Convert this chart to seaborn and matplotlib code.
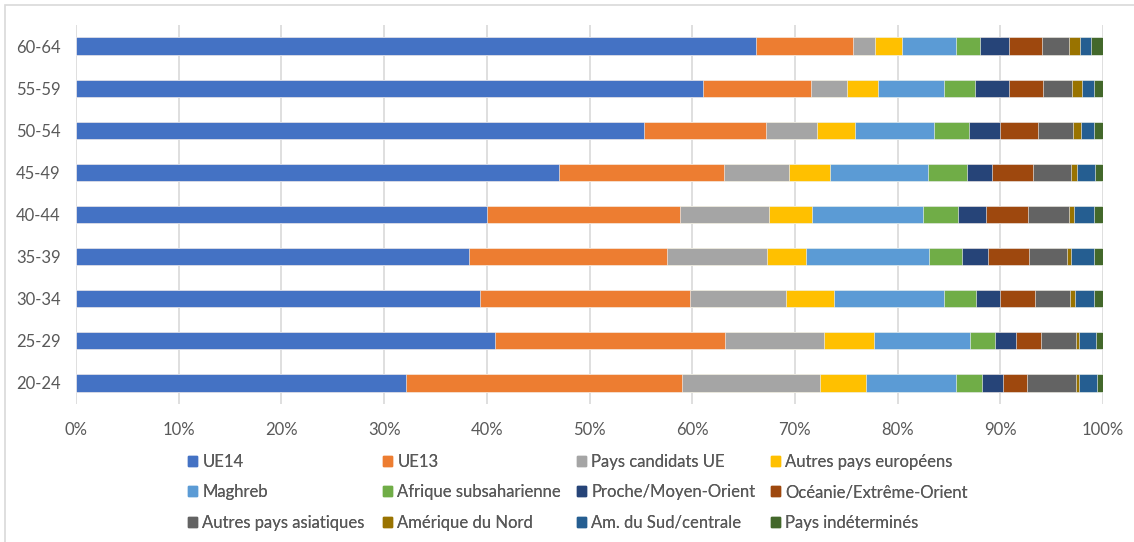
import seaborn as sns
import matplotlib.pyplot as plt
import matplotlib.patches as mpatches
import numpy as np

# age groups, top to bottom
ages = ["60-64", "55-59", "50-54", "45-49", "40-44", "35-39", "30-34", "25-29", "20-24"]

origins = ["UE14", "UE13", "Pays candidats UE", "Autres pays européens",
           "Maghreb", "Afrique subsaharienne", "Proche/Moyen-Orient", "Océanie/Extrême-Orient",
           "Autres pays asiatiques", "Amérique du Nord", "Am. du Sud/centrale", "Pays indéterminés"]

ue14 = [66.3, 61.1, 55.4, 47.2, 40.1, 38.2, 39.4, 40.8, 32.1]
ue13 = [9.4, 10.5, 11.9, 16.1, 18.8, 19.3, 20.4, 22.3, 26.8]
candidats = [2.2, 3.5, 4.9, 6.3, 8.6, 9.7, 9.4, 9.7, 13.5]
autres_europe = [2.6, 3.1, 3.7, 4.0, 4.2, 3.8, 4.7, 4.8, 4.4]
maghreb = [5.3, 6.4, 7.7, 9.6, 10.9, 12.0, 10.7, 9.4, 8.8]
afrique = [2.3, 3.0, 3.4, 3.8, 3.4, 3.2, 3.1, 2.4, 2.5]
proche_orient = [2.8, 3.3, 3.1, 2.5, 2.7, 2.5, 2.4, 2.0, 2.1]
oceanie = [3.3, 3.4, 3.7, 4.0, 4.1, 4.0, 3.4, 2.5, 2.3]
autres_asie = [2.6, 2.8, 3.4, 3.7, 4.0, 3.7, 3.4, 3.4, 4.8]
amerique_nord = [1.1, 1.0, 0.8, 0.6, 0.5, 0.4, 0.5, 0.3, 0.3]
amerique_sud = [1.0, 1.1, 1.2, 1.7, 1.9, 2.2, 1.8, 1.6, 1.7]
indetermines = [1.2, 0.9, 0.9, 0.8, 0.9, 0.9, 0.9, 0.7, 0.6]

series = [ue14, ue13, candidats, autres_europe, maghreb, afrique, proche_orient,
          oceanie, autres_asie, amerique_nord, amerique_sud, indetermines]

colors = ["#4472C4", "#ED7D31", "#A5A5A5", "#FFC000", "#5B9BD5", "#70AD47",
          "#264478", "#9E480E", "#636363", "#997300", "#255E91", "#43682B"]

sns.set_style("white")
plt.rcParams["font.family"] = ["Lato", "DejaVu Sans"]

vals = np.array(series)
pct = vals / vals.sum(axis=0) * 100
cum = pct.cumsum(axis=0)

fig = plt.figure(figsize=(11.34, 5.42), dpi=100)
ax = fig.add_axes([76 / 1134, 1 - 404 / 542, (1103 - 76) / 1134, (404 - 25) / 542])

# stacked bars: draw cumulative totals, longest first
for i in reversed(range(len(series))):
    sns.barplot(x=cum[i], y=ages, order=ages, orient="h", color=colors[i],
                saturation=1, width=0.41, edgecolor="white", linewidth=0.4, ax=ax)

ax.set_xlim(0, 100)
ax.set_ylim(8.5, -0.5)
ax.set_xticks(np.arange(0, 101, 10))
ax.set_xticklabels([f"{v}%" for v in range(0, 101, 10)])
ax.set_xlabel("")
ax.set_ylabel("")
ax.set_axisbelow(True)
ax.xaxis.grid(True, color="#D9D9D9", linewidth=1.2)
ax.yaxis.grid(False)
for s in ax.spines.values():
    s.set_visible(False)
ax.tick_params(axis="x", length=0, pad=13, labelsize=12, labelcolor="#595959")
ax.tick_params(axis="y", length=0, pad=11, labelsize=12, labelcolor="#595959")

# legend: 4 equal-width columns, filled row by row
col_x = [188, 383, 577, 771]
for j in range(4):
    handles = [mpatches.Patch(color=colors[j + 4 * r], label=origins[j + 4 * r]) for r in range(3)]
    leg = fig.legend(handles=handles, loc="upper left",
                     bbox_to_anchor=(col_x[j] / 1134, 1 - 454 / 542),
                     frameon=False, fontsize=12, labelcolor="#595959",
                     handlelength=0.55, handleheight=0.55, handletextpad=0.3,
                     labelspacing=0.86, borderpad=0, borderaxespad=0)
    fig.add_artist(leg)

# chart area border
fig.patches.append(mpatches.Rectangle((5 / 1134, -0.05), 1.1, 1 - 4.5 / 542 + 0.05,
                                      transform=fig.transFigure, fill=False,
                                      edgecolor="#D9D9D9", linewidth=1.2))

fig.savefig("out.png", dpi=100)
